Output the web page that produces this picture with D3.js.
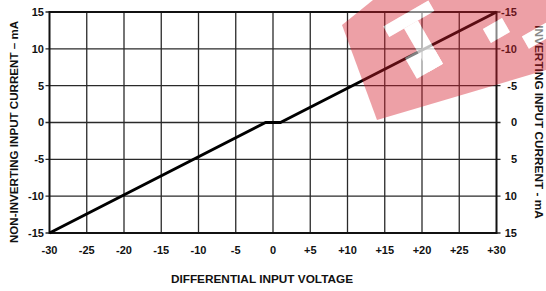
<!DOCTYPE html>
<html><head><meta charset="utf-8">
<script src="https://cdn.jsdelivr.net/npm/d3@7"></script>
<style>body{margin:0;background:#fff}svg{display:block}text{font-family:"Liberation Sans",Arial,sans-serif;font-weight:bold;fill:#111}</style>
</head><body>
<script>
// ---- data ----
const curveX = [-30, -1, 1, 30];          // differential input voltage (V)
const curveY = [-15, 0, 0, 15];           // non-inverting input current (mA)
const xTickValues = [-30,-25,-20,-15,-10,-5,0,5,10,15,20,25,30];
const xTickLabels = ["-30","-25","-20","-15","-10","-5","0","+5","+10","+15","+20","+25","+30"];
const leftTickValues = [15,10,5,0,-5,-10,-15];
const leftTickLabels = ["15","10","5","0","-5","-10","-15"];
const rightTickLabels = ["-15","-10","-5","0","5","10","15"];
const xTitle = "DIFFERENTIAL INPUT VOLTAGE";
const yTitleLeft = "NON-INVERTING INPUT CURRENT – mA";
const yTitleRight = "INVERTING INPUT CURRENT - mA";

const W = 546, H = 291;
const svg = d3.select("body").append("svg").attr("width", W).attr("height", H);
const x = d3.scaleLinear().domain([-30, 30]).range([49.5, 496.5]);
const y = d3.scaleLinear().domain([-15, 15]).range([233, 12]);

// grid
const g = svg.append("g");
g.selectAll("line.v").data(xTickValues.slice(1, -1)).join("line")
  .attr("x1", d => x(d)).attr("x2", d => x(d)).attr("y1", y(15)).attr("y2", y(-15))
  .attr("stroke", "#2a2a2a").attr("stroke-width", 1.3);
g.selectAll("line.h").data(leftTickValues).join("line")
  .attr("x1", x(-30) - 4).attr("x2", x(30) + 4).attr("y1", d => y(d)).attr("y2", d => y(d))
  .attr("stroke", "#2a2a2a").attr("stroke-width", 1.3);
// frame
g.append("rect").attr("x", x(-30)).attr("y", y(15)).attr("width", x(30) - x(-30)).attr("height", y(-15) - y(15))
  .attr("fill", "none").attr("stroke", "#111").attr("stroke-width", 2);

// curve
const pts = curveX.map((v, i) => [v, curveY[i]]);
svg.append("path").datum(pts)
  .attr("d", d3.line().x(d => x(d[0])).y(d => y(d[1])))
  .attr("fill", "none").attr("stroke", "#000").attr("stroke-width", 3).attr("stroke-linejoin", "round");

// tick labels
svg.selectAll("text.xt").data(xTickValues).join("text")
  .attr("x", d => x(d)).attr("y", 254).attr("text-anchor", "middle").attr("font-size", 11)
  .text((d, i) => xTickLabels[i]);
svg.selectAll("text.lt").data(leftTickValues).join("text")
  .attr("x", 44).attr("y", d => y(d)).attr("dy", "0.36em").attr("text-anchor", "end").attr("font-size", 11)
  .text((d, i) => leftTickLabels[i]);
svg.selectAll("text.rt").data(leftTickValues).join("text")
  .attr("x", 517).attr("y", d => y(d)).attr("dy", "0.36em").attr("text-anchor", "end").attr("font-size", 11)
  .text((d, i) => rightTickLabels[i]);

// titles
svg.append("text").attr("x", 262).attr("y", 283).attr("text-anchor", "middle").attr("font-size", 11.8).text(xTitle);
svg.append("text").attr("transform", "translate(18,132) rotate(-90)").attr("text-anchor", "middle").attr("font-size", 11.6).text(yTitleLeft);
svg.append("text").attr("transform", "translate(535,122) rotate(90)").attr("text-anchor", "middle").attr("font-size", 11.8).text(yTitleRight);

// watermark logo
const cut = [[35, 22, 52, 12], [52, 34, 16, 50], [38, 60, 30, 24], [120, 74, 22, 16], [150, 100, 30, 14]];
const defs = svg.append("defs");
const mask = defs.append("mask").attr("id", "wmmask").attr("maskUnits", "userSpaceOnUse")
  .attr("x", 0).attr("y", 0).attr("width", W).attr("height", H);
mask.append("rect").attr("x", 0).attr("y", 0).attr("width", W).attr("height", H).attr("fill", "#fff");
const mg = mask.append("g").attr("transform", "translate(342,25) rotate(-30)");
cut.forEach(r => mg.append("rect").attr("x", r[0]).attr("y", r[1]).attr("width", r[2]).attr("height", r[3]).attr("fill", "#000"));
svg.append("polygon").attr("points", "342,25 373,0 546,0 546,70 377,120")
  .attr("fill", "rgb(214,30,45)").attr("opacity", 0.42).attr("mask", "url(#wmmask)");
const wg = svg.append("g").attr("transform", "translate(342,25) rotate(-30)");
cut.forEach(r => wg.append("rect").attr("x", r[0]).attr("y", r[1]).attr("width", r[2]).attr("height", r[3]).attr("fill", "#fff").attr("opacity", 0.5));
</script>
</body></html>
